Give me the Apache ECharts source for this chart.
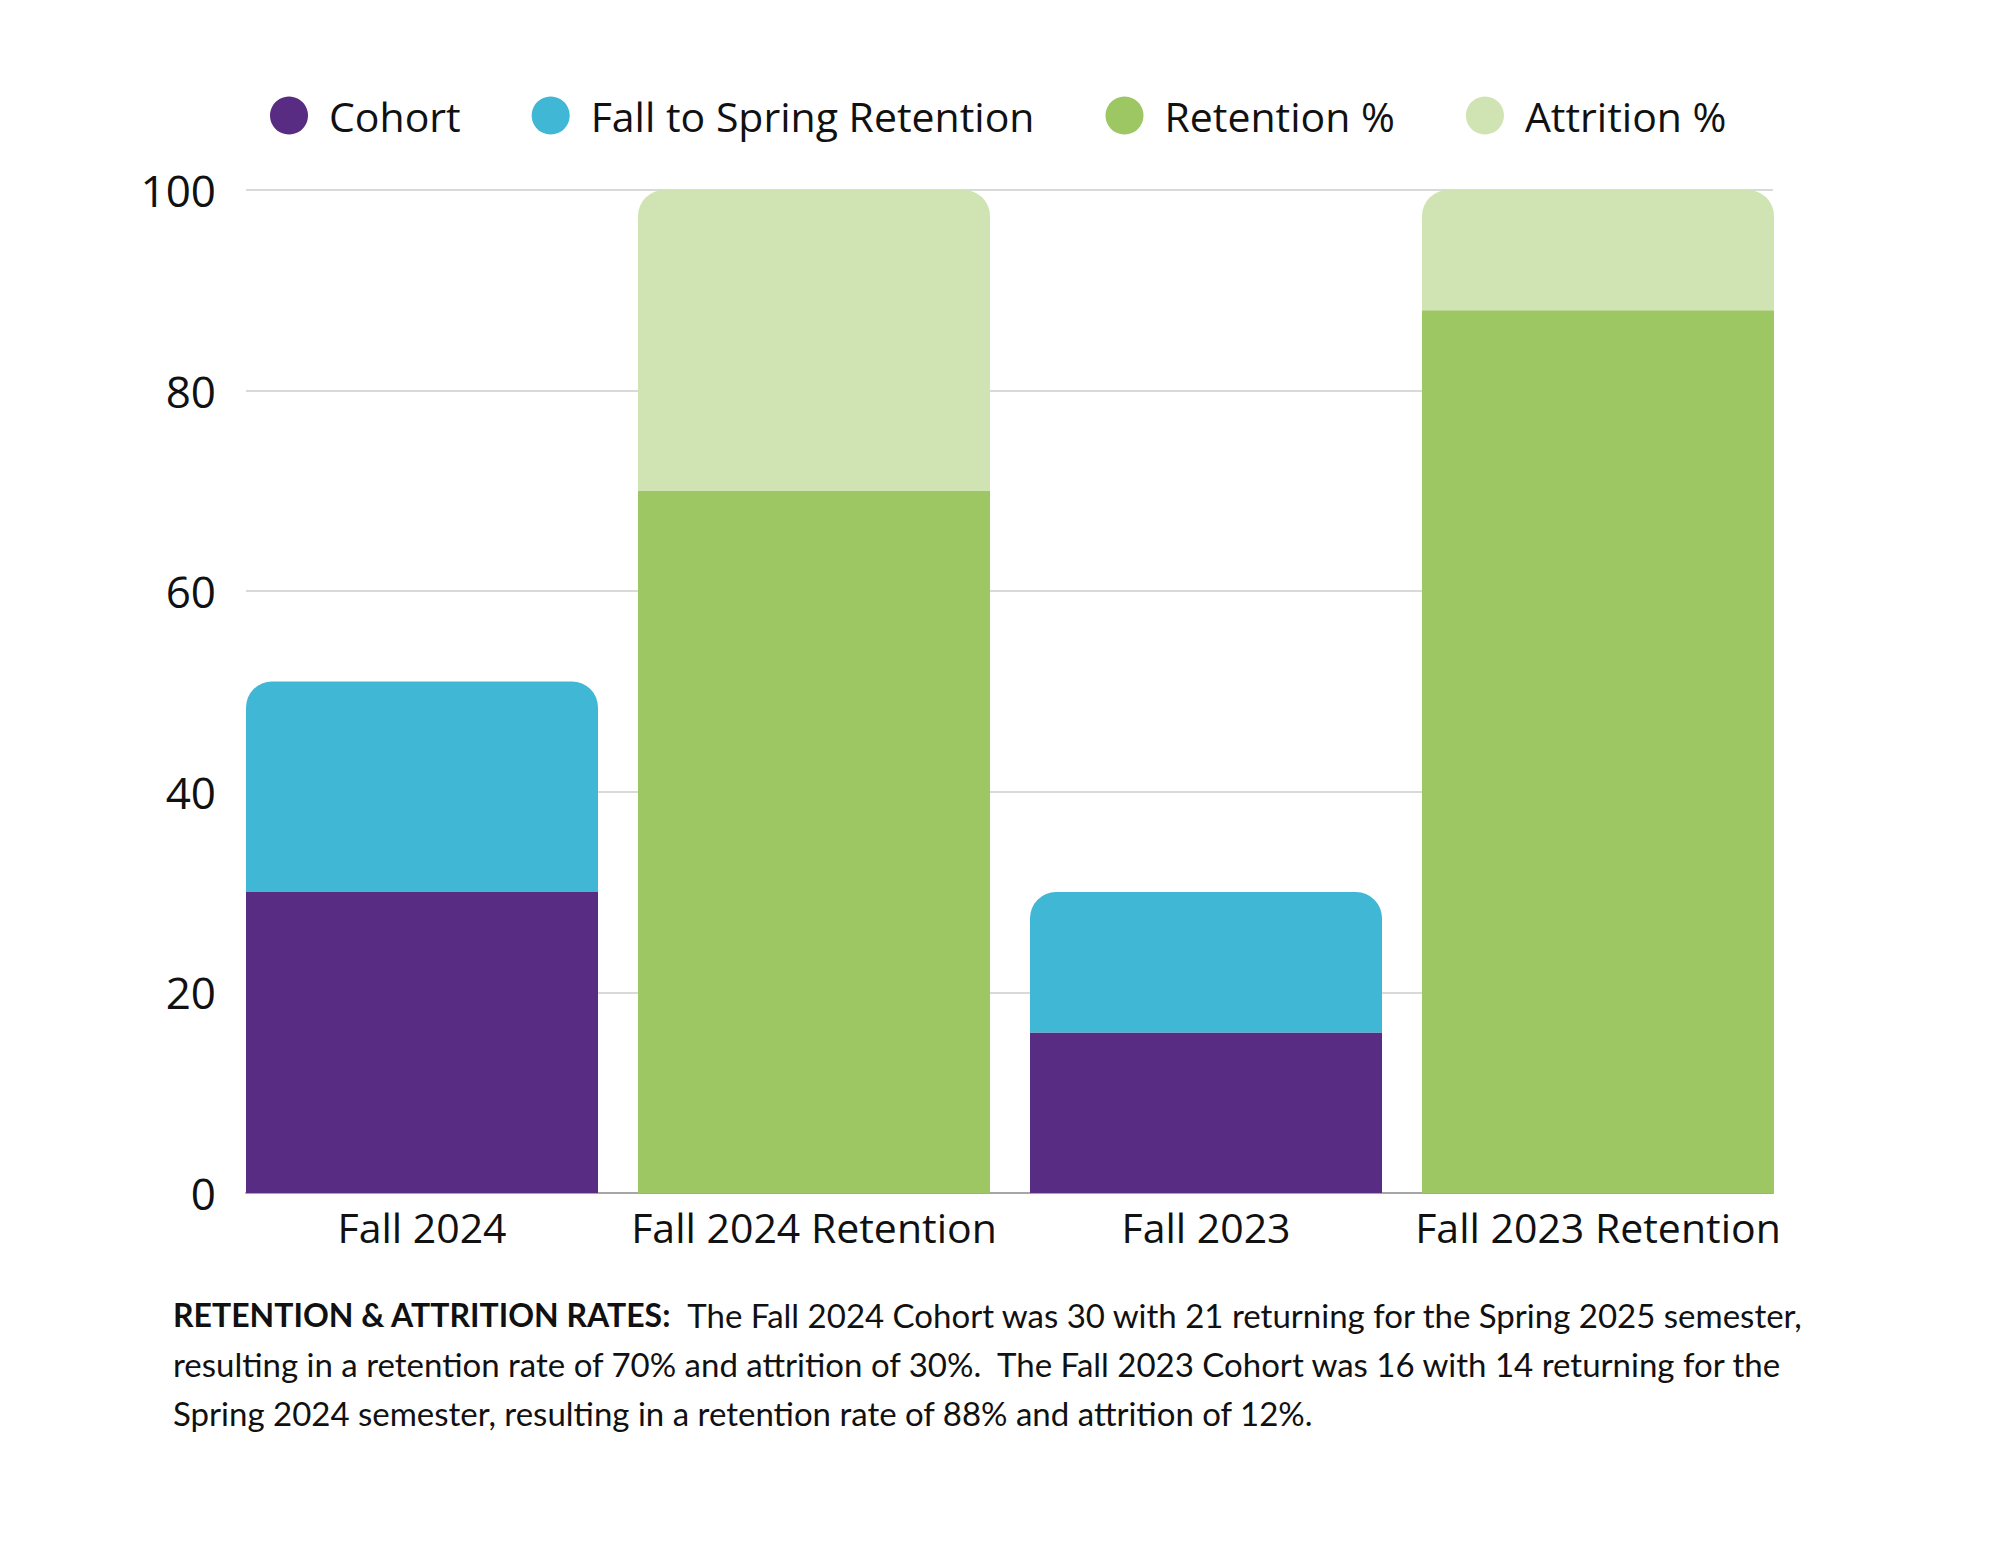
<!DOCTYPE html>
<html>
<head>
<meta charset="utf-8">
<script src="https://cdn.jsdelivr.net/npm/echarts@6/dist/echarts.min.js"></script>
<style>
html,body{margin:0;padding:0;background:#fff;}
#chart{width:2000px;height:1545px;}
</style>
</head>
<body>
<div id="chart"></div>
<script>
const categories = ['Fall 2024', 'Fall 2024 Retention', 'Fall 2023', 'Fall 2023 Retention'];
const cohort = [30, null, 16, null];
const fallToSpring = [21, null, 14, null];
const retentionPct = [null, 70, null, 88];
const attritionPct = [null, 30, null, 12];
const seriesNames = ['Cohort', 'Fall to Spring Retention', 'Retention %', 'Attrition %'];
const colors = ['#582c83', '#41b7d6', '#9dc763', '#d0e4b3'];
const noteTitle = 'RETENTION & ATTRITION RATES:';
const noteLines = [
  '  The Fall 2024 Cohort was 30 with 21 returning for the Spring 2025 semester,',
  'resulting in a retention rate of 70% and attrition of 30%.  The Fall 2023 Cohort was 16 with 14 returning for the',
  'Spring 2024 semester, resulting in a retention rate of 88% and attrition of 12%.'
];

const FONT = '"Open Sans", sans-serif';
const chart = echarts.init(document.getElementById('chart'), null, {renderer: 'svg'});
const barW = 352;
const radius = 26;
function barSeries(i, data, top) {
  return {
    name: seriesNames[i], type: 'bar', stack: 'total',
    xAxisIndex: 1, yAxisIndex: 1,
    barWidth: barW, data: data,
    itemStyle: {color: colors[i], borderRadius: top ? [radius, radius, 0, 0] : 0},
    emphasis: {disabled: true}
  };
}
chart.setOption({
  animation: false,
  color: colors,
  legend: {
    top: 90, left: 265,
    icon: 'circle', itemWidth: 70, itemHeight: 38, itemGap: 71,
    textStyle: {fontFamily: FONT, fontSize: 41, color: '#111'},
    data: seriesNames
  },
  grid: [
    {left: 246, right: 227, top: 190, bottom: 352},
    {left: 226, right: 206, top: 190, bottom: 352}
  ],
  xAxis: [
    {type: 'category', gridIndex: 0, data: categories,
     axisLine: {show: true, lineStyle: {color: '#a6a6a6', width: 2}},
     axisTick: {show: false}, axisLabel: {show: false}},
    {type: 'category', gridIndex: 1, data: categories,
     axisLine: {show: false}, axisTick: {show: false},
     axisLabel: {interval: 0, fontFamily: FONT, fontSize: 41, color: '#111', margin: 13}}
  ],
  yAxis: [
    {type: 'value', gridIndex: 0, min: 0, max: 100, interval: 20,
     axisLine: {show: false}, axisTick: {show: false},
     axisLabel: {fontFamily: FONT, fontSize: 44, color: '#111', margin: 30},
     splitLine: {lineStyle: {color: '#d9d9d9', width: 2}}},
    {type: 'value', gridIndex: 1, min: 0, max: 100, interval: 20,
     axisLine: {show: false}, axisTick: {show: false},
     axisLabel: {show: false}, splitLine: {show: false}}
  ],
  series: [
    barSeries(0, cohort, false),
    barSeries(1, fallToSpring, true),
    barSeries(2, retentionPct, false),
    barSeries(3, attritionPct, true)
  ],
  graphic: [{
    type: 'text', left: 173, top: 1290,
    style: {
      text: '{b|' + noteTitle + '}' + noteLines.join('\n'),
      font: '33px Lato, sans-serif',
      fill: '#111',
      lineHeight: 49,
      rich: {b: {fontFamily: 'Lato, sans-serif', fontSize: 32, fontWeight: 'bold', fill: '#111', lineHeight: 49}}
    }
  }]
});
</script>
</body>
</html>
